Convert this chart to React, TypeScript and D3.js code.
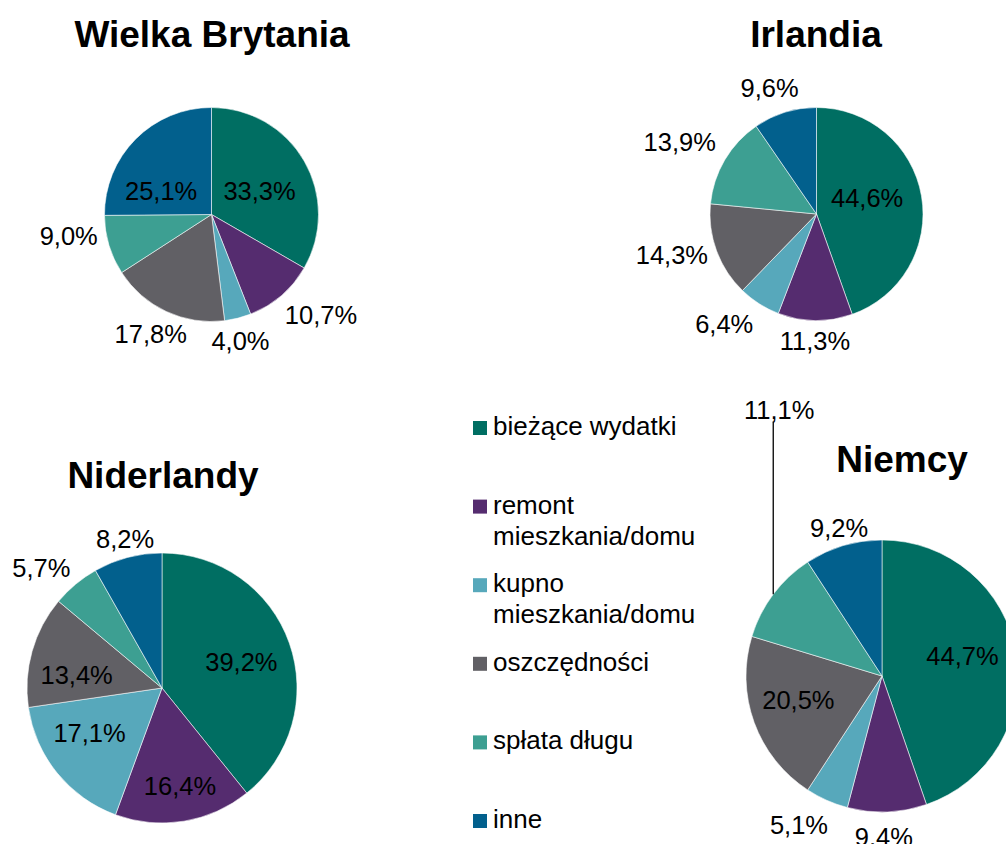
import React from 'react';
import * as d3 from 'd3';

// categories (legend order = slice order, clockwise from 12 o'clock)
const categories = ['bieżące wydatki', 'remont mieszkania/domu', 'kupno mieszkania/domu', 'oszczędności', 'spłata długu', 'inne'];
const legendLines = [['bieżące wydatki'], ['remont', 'mieszkania/domu'], ['kupno', 'mieszkania/domu'], ['oszczędności'], ['spłata długu'], ['inne']];
const colors = ['#006e62', '#552c6f', '#57a8bb', '#616065', '#3d9f92', '#02608d'];

// shares in %
const ukValues = [33.3, 10.7, 4.0, 17.8, 9.0, 25.1];
const ieValues = [44.6, 11.3, 6.4, 14.3, 13.9, 9.6];
const nlValues = [39.2, 16.4, 17.1, 13.4, 5.7, 8.2];
const deValues = [44.7, 9.4, 5.1, 20.5, 11.1, 9.2];

interface Panel {
  title: string;
  values: number[];
  cx: number;
  cy: number;
  r: number;
  titleX: number;
  titleY: number;
  labelK: number[];     // label distance as fraction of radius
  labelShift: number[]; // degrees off the slice middle
  leader?: number;      // index of a label that gets a leader line
}

const panels: Panel[] = [
  {
    title: 'Wielka Brytania', values: ukValues, cx: 211.5, cy: 214.5, r: 107, titleX: 212, titleY: 47,
    labelK: [0.5, 1.39, 1.21, 1.25, 1.35, 0.52], labelShift: [4, -6.7, 1.3, 2, 8, -19.7],
  },
  {
    title: 'Irlandia', values: ieValues, cx: 816.5, cy: 214, r: 106.5, titleX: 816, titleY: 47,
    labelK: [0.5, 1.19, 1.35, 1.41, 1.45, 1.26], labelShift: [-8.2, 0, 7.4, 4.6, -2.8, -3.2],
  },
  {
    title: 'Niderlandy', values: nlValues, cx: 162, cy: 688, r: 135, titleX: 163, titleY: 488,
    labelK: [0.62, 0.74, 0.63, 0.64, 1.26, 1.14], labelShift: [1, -1, 7.5, -7, -5.4, 0.9],
  },
  {
    title: 'Niemcy', values: deValues, cx: 882, cy: 676, r: 136, titleX: 902, titleY: 472,
    labelK: [0.61, 1.18, 1.25, 0.64, 2.1, 1.135], labelShift: [-4.4, 1.5, 5.3, 3.9, 32, 0.4], leader: 4,
  },
];

const FONT = '"Liberation Sans", Arial, sans-serif';
const fmt = (v: number) => v.toFixed(1).replace('.', ',') + '%';

const pie = d3.pie<number>().sort(null).value(d => d);

const PieChart: React.FC<{ p: Panel }> = ({ p }) => {
  const arcs = pie(p.values);
  const arc = d3.arc<d3.PieArcDatum<number>>().innerRadius(0).outerRadius(p.r);
  return (
    <g>
      <text x={p.titleX} y={p.titleY} textAnchor="middle" fontFamily={FONT} fontWeight="bold" fontSize={37}>
        {p.title}
      </text>
      <g transform={`translate(${p.cx},${p.cy})`}>
        {arcs.map((a, i) => (
          <path key={i} d={arc(a) || ''} fill={colors[i]} stroke="#ffffff" strokeWidth={0.7} strokeOpacity={0.8} />
        ))}
        {arcs.map((a, i) => {
          const mid = (a.startAngle + a.endAngle) / 2;
          const ang = mid + (p.labelShift[i] * Math.PI) / 180;
          const d = p.labelK[i] * p.r;
          const x = Math.sin(ang) * d;
          const y = -Math.cos(ang) * d;
          let leader = null;
          if (p.leader === i) {
            const px = Math.sin(mid) * p.r;
            const py = -Math.cos(mid) * p.r;
            leader = <line x1={px} y1={py} x2={px} y2={y + 12} stroke="#000" strokeWidth={1.3} />;
          }
          return (
            <g key={i}>
              {leader}
              <text x={x} y={y} dy="0.36em" textAnchor="middle" fontFamily={FONT} fontSize={25.5} fill="#000">
                {fmt(a.data)}
              </text>
            </g>
          );
        })}
      </g>
    </g>
  );
};

const Legend: React.FC = () => {
  const y = d3.scaleLinear().domain([0, categories.length - 1]).range([421, 814]);
  return (
    <g>
      {categories.map((c, i) => (
        <g key={c} transform={`translate(473,${y(i)})`}>
          <rect width={14} height={14} fill={colors[i]} />
          <text x={20} y={14} fontFamily={FONT} fontSize={26} fill="#000">
            {legendLines[i].map((ln, j) => (
              <tspan key={j} x={20} dy={j === 0 ? 0 : 31}>{ln}</tspan>
            ))}
          </text>
        </g>
      ))}
    </g>
  );
};

export default function App() {
  return (
    <svg width={1006} height={844} style={{ position: 'absolute', left: 0, top: 0, display: 'block', background: '#fff' }}>
      {panels.map(p => <PieChart key={p.title} p={p} />)}
      <Legend />
    </svg>
  );
}
